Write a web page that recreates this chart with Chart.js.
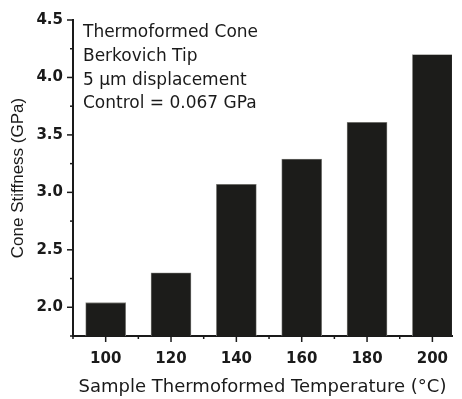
<!DOCTYPE html>
<html>
<head>
<meta charset="utf-8">
<title>Cone Stiffness</title>
<script src="https://cdn.jsdelivr.net/npm/chart.js@4"></script>
<style>
  html, body { margin: 0; padding: 0; background: #fff; }
  canvas { display: block; }
</style>
</head>
<body>
<canvas id="stiffnessChart" width="462" height="399"></canvas>
<script>
// data
const temperatures = [100, 120, 140, 160, 180, 200];
const stiffness = [2.04, 2.30, 3.07, 3.29, 3.61, 4.20];
const yTickLabels = [2.0, 2.5, 3.0, 3.5, 4.0, 4.5];
const xTickLabels = [100, 120, 140, 160, 180, 200];
const noteLines = [
  "Thermoformed Cone",
  "Berkovich Tip",
  "5 \u03bcm displacement",
  "Control = 0.067 GPa",
];

const ink = "#1a1a1a";

// tick marks: long at labelled values, short in between
const tickMarks = {
  id: "tickMarks",
  afterDraw(chart) {
    const ctx = chart.ctx;
    const x = chart.scales.x;
    const y = chart.scales.y;
    const area = chart.chartArea;
    ctx.save();
    ctx.strokeStyle = ink;
    ctx.lineWidth = 1.5;
    y.ticks.forEach((t) => {
      const py = y.getPixelForValue(t.value);
      const len = yTickLabels.some((v) => Math.abs(v - t.value) < 1e-6) ? 6 : 3;
      ctx.beginPath();
      ctx.moveTo(area.left, py);
      ctx.lineTo(area.left - len, py);
      ctx.stroke();
    });
    x.ticks.forEach((t) => {
      const px = x.getPixelForValue(t.value);
      const len = xTickLabels.includes(t.value) ? 6 : 3;
      ctx.beginPath();
      ctx.moveTo(px, area.bottom);
      ctx.lineTo(px, area.bottom + len);
      ctx.stroke();
    });
    ctx.restore();
  },
};

// text block in the upper left of the plot
const noteText = {
  id: "noteText",
  afterDraw(chart) {
    const ctx = chart.ctx;
    const area = chart.chartArea;
    ctx.save();
    ctx.fillStyle = ink;
    ctx.font = "17px 'DejaVu Sans'";
    ctx.textBaseline = "alphabetic";
    noteLines.forEach((line, i) => {
      ctx.fillText(line, area.left + 10, area.top + 17 + i * 23.8);
    });
    ctx.restore();
  },
};

const ctx = document.getElementById("stiffnessChart").getContext("2d");
new Chart(ctx, {
  type: "bar",
  data: {
    datasets: [
      {
        data: temperatures.map((t, i) => ({ x: t, y: stiffness[i] })),
        backgroundColor: "#1c1c1a",
        borderColor: "#8a8a86",
        borderWidth: 0.8,
        barThickness: 40,
      },
    ],
  },
  options: {
    responsive: false,
    animation: false,
    layout: { padding: { top: 20, right: 10, left: 0, bottom: 0 } },
    plugins: {
      legend: { display: false },
      tooltip: { enabled: false },
    },
    scales: {
      x: {
        type: "linear",
        offset: false,
        min: 90,
        max: 206,
        afterBuildTicks(scale) {
          const ticks = [];
          for (let v = 90; v <= 200; v += 10) ticks.push({ value: v });
          scale.ticks = ticks;
        },
        afterFit(scale) {
          scale.height = 63;
        },
        grid: { display: false },
        border: { display: true, color: ink, width: 2 },
        ticks: {
          autoSkip: false,
          maxRotation: 0,
          padding: 6,
          color: ink,
          font: { family: "'DejaVu Sans'", size: 15, weight: "bold" },
          callback: (v) => (xTickLabels.includes(v) ? String(v) : ""),
        },
        title: {
          display: true,
          text: "Sample Thermoformed Temperature (\u00b0C)",
          color: ink,
          font: { family: "'DejaVu Sans'", size: 18 },
          padding: { top: 0, bottom: 1 },
        },
      },
      y: {
        min: 1.75,
        max: 4.5,
        afterBuildTicks(scale) {
          const ticks = [];
          for (let v = 1.75; v <= 4.5 + 1e-6; v += 0.25) ticks.push({ value: Math.round(v * 100) / 100 });
          scale.ticks = ticks;
        },
        afterFit(scale) {
          scale.width = 73;
        },
        grid: { display: false },
        border: { display: true, color: ink, width: 2 },
        ticks: {
          autoSkip: false,
          padding: 2,
          color: ink,
          font: { family: "'DejaVu Sans'", size: 15, weight: "bold" },
          callback: (v) => (yTickLabels.some((t) => Math.abs(t - v) < 1e-6) ? v.toFixed(1) : ""),
        },
        title: {
          display: true,
          text: "Cone Stiffness (GPa)",
          color: ink,
          font: { family: "'Liberation Sans'", size: 17 },
          padding: { top: 8, bottom: 0 },
        },
      },
    },
  },
  plugins: [tickMarks, noteText],
});
</script>
</body>
</html>
